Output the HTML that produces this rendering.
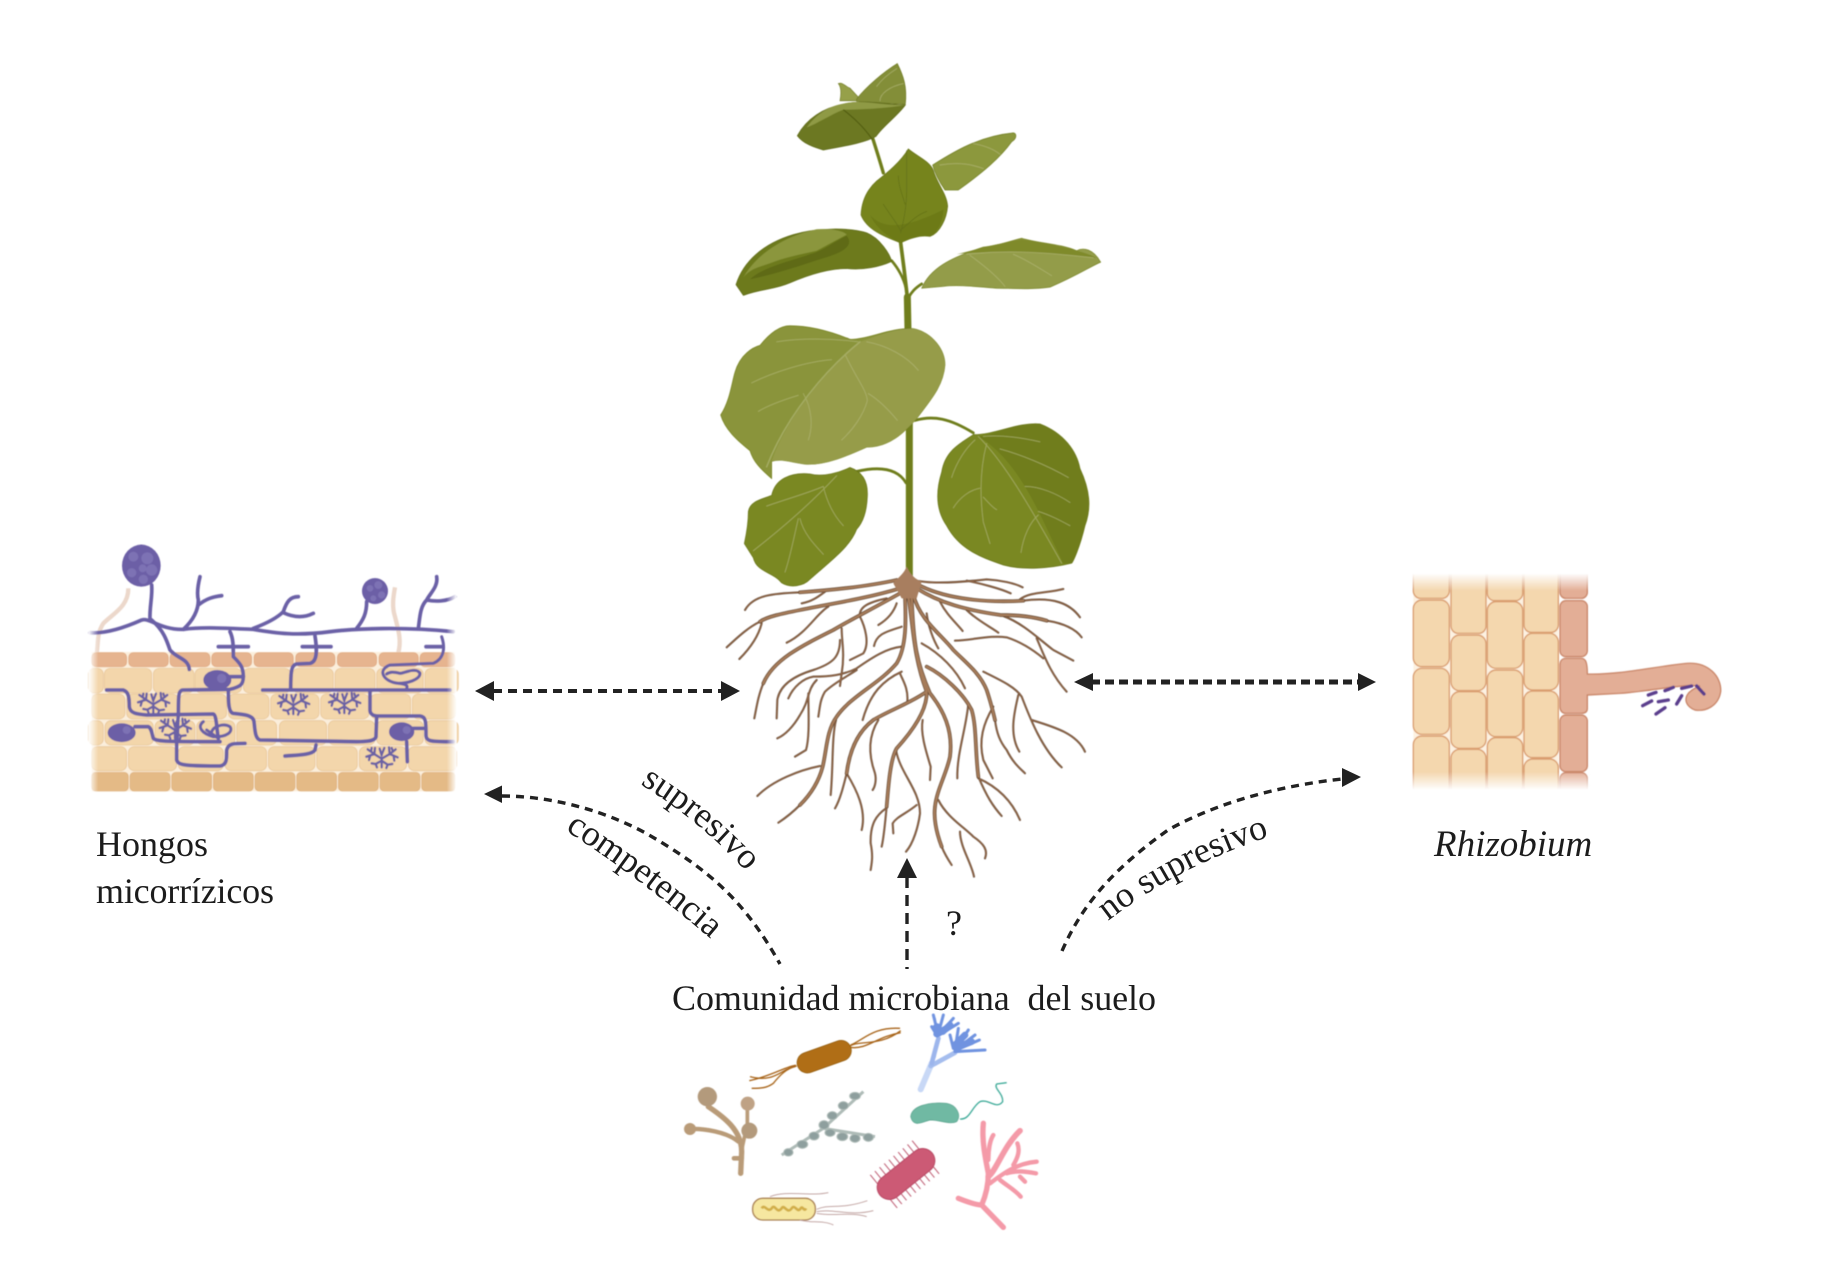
<!DOCTYPE html>
<html lang="es">
<head>
<meta charset="utf-8">
<title>Comunidad microbiana del suelo</title>
<style>
html,body{margin:0;padding:0;background:#fff;width:1847px;height:1277px;overflow:hidden}
svg{display:block}
text{font-family:"Liberation Serif",serif;fill:#1c1c1c;font-size:36px}
</style>
</head>
<body>
<svg width="1847" height="1277" viewBox="0 0 1847 1277" xmlns="http://www.w3.org/2000/svg">
<defs>
<filter id="b" filterUnits="userSpaceOnUse" x="0" y="0" width="1847" height="1277"><feGaussianBlur stdDeviation=".6"/></filter>
<linearGradient id="fl" x1="0" x2="1" y1="0" y2="0"><stop offset="0" stop-color="#fff"/><stop offset="1" stop-color="#fff" stop-opacity="0"/></linearGradient>
<linearGradient id="fr" x1="0" x2="1" y1="0" y2="0"><stop offset="0" stop-color="#fff" stop-opacity="0"/><stop offset="1" stop-color="#fff"/></linearGradient>
<linearGradient id="ft" x1="0" x2="0" y1="0" y2="1"><stop offset="0" stop-color="#fff"/><stop offset="1" stop-color="#fff" stop-opacity="0"/></linearGradient>
<linearGradient id="fb" x1="0" x2="0" y1="0" y2="1"><stop offset="0" stop-color="#fff" stop-opacity="0"/><stop offset="1" stop-color="#fff"/></linearGradient>
<path id="ps" d="M640,784Q705,824 752,878"/>
<path id="pc" d="M565,830Q645,882 712,940"/>
<path id="pn" d="M1108,921Q1180,865 1274,835"/>
<g id="r1" fill="none" stroke-linecap="round" stroke-linejoin="round">
<path d="M600,85C500,115 400,130 300,150C250,160 200,170 180,185"/>
<path d="M600,100C530,140 450,180 400,210C300,260 220,300 190,370"/>
<path d="M615,110C618,180 620,260 590,310C540,370 450,410 410,470C380,510 380,570 368,620C355,670 325,710 300,735"/>
<path d="M625,110C640,200 640,290 680,395C630,430 570,450 520,480C480,510 450,560 440,640"/>
<path d="M635,110C640,250 650,310 690,400C730,450 760,510 750,590C740,640 710,690 705,740C700,780 710,820 725,860"/>
<path d="M640,105C660,180 720,220 760,270C800,310 840,340 860,390C870,420 878,450 885,480"/>
<path d="M650,72C720,110 830,130 970,122"/>
<path d="M650,85C720,130 800,150 900,165C950,165 1000,170 1040,182"/>
<path d="M680,400C680,450 640,510 590,565C570,600 565,680 560,740"/>
<path d="M680,320C730,345 790,400 815,450C830,500 825,570 835,650"/>
<path d="M590,60C500,80 400,90 300,97"/>
</g>
<g id="r2" fill="none" stroke-linecap="round" stroke-linejoin="round">
<path d="M300,97C220,100 160,105 135,150"/>
<path d="M180,185C140,205 110,235 80,262"/>
<path d="M185,190C175,230 150,265 118,297"/>
<path d="M385,140C350,160 320,220 260,248"/>
<path d="M375,95C355,110 335,125 305,130"/>
<path d="M190,370C175,405 170,440 163,475"/>
<path d="M425,205C425,245 435,280 425,340L420,378"/>
<path d="M420,240C420,290 400,310 340,330C290,345 240,370 232,420L230,475"/>
<path d="M560,115C510,125 475,140 480,170C495,200 510,250 490,280L450,300"/>
<path d="M605,260C560,265 520,290 470,325C430,345 390,350 340,350C310,355 280,380 265,415"/>
<path d="M470,330C440,350 400,370 375,395C360,420 360,440 355,470"/>
<path d="M350,360C320,390 330,420 300,465C280,500 255,525 232,535"/>
<path d="M325,400C325,450 330,530 318,570L285,590"/>
<path d="M590,130C580,160 560,180 535,195"/>
<path d="M605,200C560,215 530,220 522,258"/>
<path d="M300,735C280,755 255,775 235,788"/>
<path d="M360,618C300,630 220,660 172,708"/>
<path d="M408,480C395,530 400,620 392,705"/>
<path d="M605,335C550,360 510,400 488,480"/>
<path d="M600,340C610,365 625,385 622,425"/>
<path d="M440,640C430,680 420,720 405,745"/>
<path d="M440,640C470,690 500,750 485,810"/>
<path d="M535,480C510,520 500,570 525,640C530,660 525,680 518,690"/>
<path d="M725,860C735,885 745,900 755,915"/>
<path d="M560,740C555,790 552,830 545,860"/>
<path d="M588,570C600,640 660,690 660,760C655,800 640,850 618,875"/>
<path d="M650,735C620,760 590,770 578,790L580,820"/>
<path d="M558,745C530,765 510,790 512,850C520,890 515,910 512,930"/>
<path d="M668,480C660,520 680,580 692,620L690,660"/>
<path d="M715,720C740,770 790,800 820,830C850,850 865,870 855,895"/>
<path d="M780,815C780,860 815,910 822,950"/>
<path d="M885,480C890,520 900,545 920,570C940,610 960,625 975,640"/>
<path d="M665,250C720,280 770,330 795,385"/>
<path d="M680,160C685,200 700,240 715,265"/>
<path d="M835,650C860,710 880,740 905,768"/>
<path d="M805,430C800,500 770,580 772,655"/>
<path d="M835,655C880,675 930,710 960,780"/>
<path d="M880,440C850,490 835,540 850,600L878,655"/>
<path d="M850,335C900,360 945,380 965,410C985,460 1020,560 1085,622"/>
<path d="M955,405C945,450 925,520 958,575"/>
<path d="M995,480C1060,500 1130,520 1155,575"/>
<path d="M640,60C700,75 800,65 860,58C900,60 945,70 968,82"/>
<path d="M970,122C1060,110 1110,130 1140,172"/>
<path d="M800,62C840,70 900,85 932,100"/>
<path d="M960,118C990,95 1040,100 1090,87"/>
<path d="M1040,182C1090,190 1125,205 1145,232"/>
<path d="M910,168C970,190 1020,240 1060,270L1120,302"/>
<path d="M1010,235C1030,280 1050,340 1100,395"/>
<path d="M765,242C820,240 870,225 920,232C960,245 1000,270 1030,295"/>
<path d="M800,150C830,180 870,200 895,218"/>
<path d="M720,125C740,165 770,190 788,213"/>
</g>
<g id="arb" fill="none" stroke="#6c62a4" stroke-width="7" stroke-linecap="round">
<path d="M0,34V5M0,8L-22,-6M-22,-6L-42,-20M-22,-6L-46,2M-22,-6L-20,-24M-32,-13L-30,-24M-34,-2L-38,12M0,8L24,-6M24,-6L42,-20M24,-6L48,4M24,-6L22,-26M34,-13L30,-24M36,0L38,14M0,14L-18,24M-18,24L-30,22M-18,24L-14,34M0,14L18,26M18,26L32,24M18,26L14,36M0,-2L-6,-22M0,-4L8,-24"/>
</g>
</defs>

<g filter="url(#b)">
<!-- PLANT -->
<g transform="translate(650,40) scale(.33333,.35714)">
<g fill="none" stroke="#6f7e1e" stroke-linecap="round">
<path d="M778,1500L778,1000L772,720" stroke-width="21"/>
<path d="M772,720L762,640L752,568" stroke-width="11"/>
<path d="M668,275C680,310 690,340 700,372" stroke-width="10"/>
<path d="M725,618C745,640 760,665 768,695" stroke-width="8"/>
<path d="M815,683C795,695 785,705 775,722" stroke-width="8"/>
<path d="M795,1065C850,1050 900,1060 970,1100" stroke-width="8"/>
<path d="M620,1208C680,1195 740,1195 768,1240" stroke-width="8"/>
</g>
<path d="M565,122C580,118 585,130 600,135L635,170L570,170C575,145 572,130 565,122Z" fill="#96a04a" stroke="#6f7a24" stroke-width="2"/>
<path d="M620,165C650,130 700,90 742,66C760,100 772,130 766,180L620,172Z" fill="#838e38" stroke="#6f7a24" stroke-width="2"/>
<path d="M442,268C470,220 520,190 580,180C640,165 700,180 766,182C740,215 700,240 678,270C650,285 600,295 520,308C490,300 460,290 442,268Z" fill="#6c7821" stroke="#5f6a1a" stroke-width="2"/>
<path d="M470,245C500,205 540,185 580,178C640,165 700,185 766,182C720,190 640,195 580,195C540,210 500,235 470,245Z" fill="#8f9a45"/>
<path d="M848,350C900,320 980,270 1090,260C1100,262 1102,275 1085,285C1050,330 1000,370 925,420L885,420C870,400 855,375 848,350Z" fill="#8c983c" stroke="#6f7d20" stroke-width="2"/>
<path d="M775,305C800,325 840,340 850,365C860,400 890,430 893,465C890,500 870,540 840,550C810,545 780,555 752,568C700,550 650,530 633,490C635,450 650,420 680,395C700,380 750,345 775,305Z" fill="#76841f" stroke="#647118" stroke-width="2"/>
<path d="M660,490C700,530 760,530 880,475C880,510 860,540 840,550C810,545 780,555 752,568C720,555 680,530 660,490Z" fill="#6d7a18"/>
<path d="M258,685C280,620 340,570 430,545C500,525 600,525 650,540C690,555 720,600 725,620C690,635 640,645 590,640C530,640 470,660 420,680C370,700 340,695 280,715Z" fill="#6d7a1e" stroke="#5e6a16" stroke-width="2"/>
<path d="M280,665C320,600 400,550 500,530C550,528 580,535 590,545C560,560 530,575 500,590C450,600 400,610 360,625C330,635 300,640 280,665Z" fill="#8b963c"/>
<path d="M300,670C340,635 420,620 480,600C520,590 550,565 590,548C610,570 590,590 540,605C470,625 400,650 300,670Z" fill="#5f6a14"/>
<path d="M815,695C840,640 900,610 1000,580C1050,575 1090,560 1115,555C1170,570 1230,570 1280,590C1300,580 1330,585 1352,622C1320,635 1280,660 1200,692C1140,700 1080,695 1040,695C970,690 920,685 880,690Z" fill="#939c48" stroke="#7a8628" stroke-width="2"/>
<path d="M920,600C1000,590 1150,590 1340,610C1300,590 1200,570 1115,558C1050,570 980,585 920,600Z" fill="#7f8a2c"/>
<path d="M212,1050C240,1010 245,960 255,930C270,880 310,860 330,855C360,820 390,800 420,800C480,800 540,815 600,838C650,840 720,805 790,808C850,820 885,870 885,910C880,970 840,1010 800,1060C760,1100 720,1140 650,1140C590,1165 530,1190 470,1188C430,1185 395,1170 365,1180L365,1228C330,1200 310,1180 300,1150C260,1120 225,1090 212,1050Z" fill="#8a943a" stroke="#74801f" stroke-width="2"/>
<path d="M630,845C690,825 740,808 790,808C850,820 885,870 885,910C880,970 840,1010 800,1060C760,1100 720,1140 650,1140C590,1165 530,1190 470,1188C430,1185 395,1170 365,1180C400,1080 500,950 630,845Z" fill="#969c4a"/>
<path d="M283,1410C290,1380 295,1350 295,1320C300,1290 340,1285 365,1275C375,1230 420,1210 480,1215C520,1225 570,1210 600,1197C640,1210 655,1240 652,1280C650,1320 640,1350 620,1370C600,1420 540,1460 480,1510C460,1530 420,1535 395,1520C370,1490 320,1490 310,1450Z" fill="#7a8823" stroke="#667318" stroke-width="2"/>
<path d="M970,1105C1040,1105 1100,1070 1170,1075C1240,1100 1280,1150 1290,1200C1320,1260 1325,1310 1305,1360C1290,1420 1270,1460 1265,1465C1200,1480 1120,1485 1060,1470C1000,1450 930,1430 890,1360C860,1320 855,1270 875,1210C885,1150 930,1130 970,1105Z" fill="#7a8823" stroke="#667318" stroke-width="2"/>
<path d="M985,1110C1040,1105 1100,1070 1170,1075C1240,1100 1280,1150 1290,1200C1320,1260 1325,1310 1305,1360C1290,1420 1270,1460 1265,1465L1240,1465C1170,1330 1110,1180 985,1110Z" fill="#6f7d1c"/>
<g fill="none" stroke="#b3b878" stroke-width="2.500" stroke-linecap="round" opacity=".7">
<path d="M630,845C530,920 410,1050 350,1195" stroke-width="4"/>
<path d="M545,895C470,900 370,930 305,960M445,995C410,1005 360,1020 325,1040M460,990C485,1030 490,1080 475,1120M585,880C620,950 650,980 652,1010C640,1050 610,1090 575,1120M655,990C690,1010 720,1040 742,1065M625,845C540,835 450,835 380,845M650,845C710,855 770,885 805,925"/>
<path d="M560,1220C500,1280 420,1350 310,1430M520,1250C530,1290 550,1330 580,1360M520,1250C470,1270 410,1285 350,1305M450,1340C460,1380 490,1410 520,1440M445,1340C430,1400 420,1450 405,1490"/>
<path d="M985,1110C1060,1180 1130,1290 1235,1465M1010,1130C990,1200 990,1280 1000,1350L1020,1410M990,1255C960,1260 930,1280 910,1310M1000,1280C1020,1300 1030,1310 1040,1315M975,1120C950,1140 920,1180 905,1225M1050,1145C1110,1160 1190,1190 1255,1225M1000,1110C1060,1105 1120,1115 1170,1125M1125,1250C1170,1250 1220,1270 1260,1295M1165,1320C1200,1330 1230,1345 1260,1360M1165,1330C1140,1350 1120,1390 1113,1435"/>
<path d="M770,310V420C770,470 760,510 752,540M745,380C745,410 760,440 765,460M700,460C720,490 740,510 752,535M830,480C800,490 780,510 755,530" stroke="#5f6c14"/>
<path d="M870,350C930,340 970,350 1000,360M970,290C1000,295 1030,305 1050,320"/>
<path d="M950,600C1050,590 1150,590 1330,610M960,603C1000,630 1040,660 1065,690M1090,600C1130,615 1170,640 1205,660"/>
<path d="M680,130C695,110 715,95 740,80M690,170C690,150 720,130 760,122"/>
</g>
<path d="M580,195C600,210 640,240 668,280" fill="none" stroke="#4f5a10" stroke-width="3"/>
</g>

<!-- ROOTS -->
<g transform="translate(700,560) scale(.33333)">
<use href="#r2" stroke="#4d3726" stroke-width="6"/>
<use href="#r2" stroke="#94694a" stroke-width="3.500"/>
<use href="#r1" stroke="#5f442f" stroke-width="11"/>
<use href="#r1" stroke="#a67c5a" stroke-width="7"/>
<path d="M620,20C610,45 590,55 580,70L605,115L650,115L665,65C640,55 630,40 620,20Z" fill="#a87e5e"/>
</g>

<!-- MYCORRHIZA -->
<g transform="translate(70,530) scale(.33333)">
<path d="M80,370C85,340 80,310 100,280C130,250 175,230 175,175" fill="none" stroke="#ecd8cb" stroke-width="13"/>
<path d="M985,368C995,330 985,300 975,260C965,230 970,200 975,172" fill="none" stroke="#ecd8cb" stroke-width="13"/>
<rect x="65" y="366" width="1090" height="418" fill="#fbeedb"/>
<g fill="#e6b48f" stroke="#e0a97f" stroke-width="2">
<rect x="65" y="368" width="105" height="42" rx="14"/><rect x="176" y="368" width="119" height="42" rx="14"/><rect x="300" y="368" width="120" height="42" rx="14"/><rect x="425" y="368" width="120" height="42" rx="14"/><rect x="552" y="368" width="118" height="42" rx="14"/><rect x="677" y="368" width="118" height="42" rx="14"/><rect x="802" y="368" width="118" height="42" rx="14"/><rect x="927" y="368" width="118" height="42" rx="14"/><rect x="1050" y="368" width="105" height="42" rx="14"/>
</g>
<g fill="#f3d6ab" stroke="#e8c494" stroke-width="2">
<rect x="55" y="415" width="45" height="74" rx="18"/><rect x="103" y="415" width="142" height="74" rx="18"/><rect x="250" y="415" width="122" height="74" rx="18"/><rect x="375" y="415" width="140" height="74" rx="18"/><rect x="520" y="415" width="142" height="74" rx="18"/><rect x="668" y="415" width="122" height="74" rx="18"/><rect x="795" y="415" width="120" height="74" rx="18"/><rect x="920" y="415" width="140" height="74" rx="18"/><rect x="1065" y="415" width="100" height="74" rx="18"/>
<rect x="65" y="492" width="100" height="75" rx="18"/><rect x="170" y="492" width="155" height="75" rx="18"/><rect x="330" y="492" width="140" height="75" rx="18"/><rect x="475" y="492" width="122" height="75" rx="18"/><rect x="602" y="492" width="145" height="75" rx="18"/><rect x="752" y="492" width="145" height="75" rx="18"/><rect x="902" y="492" width="120" height="75" rx="18"/><rect x="1027" y="492" width="130" height="75" rx="18"/>
<rect x="55" y="572" width="45" height="73" rx="18"/><rect x="105" y="572" width="145" height="73" rx="18"/><rect x="255" y="572" width="120" height="73" rx="18"/><rect x="380" y="572" width="115" height="73" rx="18"/><rect x="500" y="572" width="120" height="73" rx="18"/><rect x="628" y="572" width="142" height="73" rx="18"/><rect x="775" y="572" width="140" height="73" rx="18"/><rect x="920" y="572" width="140" height="73" rx="18"/><rect x="1065" y="572" width="100" height="73" rx="18"/>
<rect x="65" y="650" width="105" height="72" rx="18"/><rect x="175" y="650" width="145" height="72" rx="18"/><rect x="325" y="650" width="135" height="72" rx="18"/><rect x="465" y="650" width="125" height="72" rx="18"/><rect x="595" y="650" width="140" height="72" rx="18"/><rect x="740" y="650" width="122" height="72" rx="18"/><rect x="868" y="650" width="142" height="72" rx="18"/><rect x="1015" y="650" width="145" height="72" rx="18"/>
</g>
<g fill="#e4ba86" stroke="#dcae78" stroke-width="2">
<rect x="65" y="727" width="110" height="56" rx="12"/><rect x="180" y="727" width="120" height="56" rx="12"/><rect x="305" y="727" width="120" height="56" rx="12"/><rect x="430" y="727" width="120" height="56" rx="12"/><rect x="555" y="727" width="120" height="56" rx="12"/><rect x="680" y="727" width="120" height="56" rx="12"/><rect x="805" y="727" width="120" height="56" rx="12"/><rect x="930" y="727" width="120" height="56" rx="12"/><rect x="1055" y="727" width="100" height="56" rx="12"/>
</g>
<g fill="none" stroke="#6a60a6" stroke-width="11" stroke-linecap="round" stroke-linejoin="round">
<path d="M60,308C110,312 170,290 215,270C240,262 270,300 340,298C400,290 470,295 550,298C620,310 680,318 780,305C860,295 1000,290 1150,305"/>
<path d="M240,270C238,230 248,200 245,165"/>
<path d="M340,298C370,270 385,240 385,210C380,190 385,160 390,140M385,225C410,205 430,200 455,197"/>
<path d="M550,295C590,280 620,265 640,245C650,215 660,200 685,200M640,248C670,262 700,265 730,250"/>
<path d="M245,270C280,300 290,330 300,360C320,385 355,385 358,418"/>
<path d="M860,295C880,270 890,250 890,215"/>
<path d="M1045,295C1050,260 1050,230 1070,210C1080,190 1105,170 1100,140M1070,210C1095,215 1130,215 1155,200"/>
<path d="M480,305C490,325 490,350 490,380C510,400 520,410 520,440C520,465 510,470 480,478L340,480C325,480 325,495 325,560C320,590 325,610 320,630"/>
<path d="M445,350H535M697,350H783M1068,350H1115"/>
<path d="M735,318C740,350 745,395 720,400L680,402C665,405 662,420 662,475"/>
<path d="M578,480H1140"/>
<path d="M900,480V540C900,555 915,558 925,558H1050C1068,560 1068,575 1068,615C1068,635 1085,635 1150,635"/>
<path d="M920,560L918,620C915,635 880,635 860,635L570,630C555,625 555,600 552,575C550,555 520,553 490,550C478,548 475,530 475,480"/>
<path d="M110,480H160C175,485 178,500 178,530C180,550 200,552 230,555L430,552C440,555 440,600 445,625"/>
<path d="M195,590H235C245,595 245,610 250,625C260,635 300,635 450,635"/>
<path d="M320,635V690C325,705 340,708 450,708C470,705 470,690 470,660C475,640 490,640 525,640"/>
<path d="M645,678C680,675 725,675 735,660L738,645"/>
<path d="M1010,635L1012,695M1030,595H1060M480,440H520"/>
<path d="M1115,320C1125,350 1125,385 1090,400L960,405C920,420 940,455 985,460C1010,460 1050,450 1050,430C1040,410 1000,430 990,430C970,425 960,425 950,432M985,460C1005,462 1015,465 1010,475" stroke-width="9"/>
<path d="M400,575C380,590 395,610 430,620C470,622 490,605 480,590C460,578 430,590 425,605M410,600L445,625" stroke-width="9"/>
</g>
<use href="#arb" x="250" y="515"/>
<use href="#arb" x="315" y="592"/>
<use href="#arb" x="670" y="518"/>
<use href="#arb" x="823" y="515"/>
<use href="#arb" x="935" y="678"/>
<g fill="#6c5fa6">
<ellipse cx="214" cy="107" rx="58" ry="63"/><circle cx="915" cy="183" r="39"/>
<ellipse cx="442" cy="450" rx="42" ry="30"/><ellipse cx="155" cy="608" rx="42" ry="28"/><ellipse cx="995" cy="605" rx="38" ry="28"/>
</g>
<g fill="#8277b8" opacity=".8">
<circle cx="232" cy="85" r="18"/><circle cx="190" cy="80" r="15"/><circle cx="245" cy="120" r="17"/><circle cx="218" cy="115" r="12"/><circle cx="220" cy="148" r="14"/><circle cx="185" cy="128" r="14"/>
<circle cx="925" cy="165" r="12"/><circle cx="900" cy="175" r="10"/><circle cx="935" cy="195" r="11"/><circle cx="910" cy="205" r="9"/>
<circle cx="455" cy="445" r="14"/><circle cx="170" cy="600" r="12"/><circle cx="1010" cy="600" r="12"/>
</g>
<rect x="55" y="280" width="30" height="510" fill="url(#fl)"/>
<rect x="1130" y="130" width="30" height="660" fill="url(#fr)"/>
</g>

<!-- RHIZOBIUM -->
<g transform="translate(1380,560) scale(.33333)">
<rect x="100" y="40" width="435" height="650" fill="#fdf2e2"/>
<g fill="#f4d7ae" stroke="#d99c6e" stroke-width="4">
<rect x="100" y="20" width="108" height="95" rx="22"/><rect x="100" y="120" width="108" height="200" rx="26"/><rect x="100" y="325" width="108" height="198" rx="26"/><rect x="100" y="528" width="108" height="180" rx="26"/>
<rect x="213" y="20" width="105" height="200" rx="22"/><rect x="213" y="225" width="105" height="167" rx="26"/><rect x="213" y="395" width="105" height="170" rx="26"/><rect x="213" y="568" width="105" height="140" rx="26"/>
<rect x="322" y="20" width="106" height="102" rx="22"/><rect x="322" y="125" width="106" height="200" rx="26"/><rect x="322" y="330" width="106" height="200" rx="26"/><rect x="322" y="533" width="106" height="170" rx="26"/>
<rect x="432" y="20" width="103" height="197" rx="22"/><rect x="432" y="220" width="103" height="170" rx="26"/><rect x="432" y="393" width="103" height="200" rx="26"/><rect x="432" y="597" width="103" height="110" rx="26"/>
</g>
<g fill="#e3ae96" stroke="#c98567" stroke-width="4">
<rect x="540" y="20" width="82" height="95" rx="18"/><rect x="540" y="122" width="82" height="168" rx="18"/><rect x="540" y="465" width="82" height="170" rx="18"/><rect x="540" y="638" width="82" height="70" rx="18"/>
<path d="M558,295H604C618,295 622,310 622,342C720,345 820,320 920,310C985,305 1025,350 1022,395C1015,440 975,455 945,450C920,440 910,420 925,400C935,388 955,380 960,378C900,372 800,395 720,400L622,405V445C622,455 615,460 604,460H558C545,460 540,450 540,440V315C540,302 547,295 558,295Z"/>
</g>
<g stroke="#5a3d8c" stroke-width="10" stroke-linecap="round" fill="none">
<path d="M805,405L828,397M855,392L880,382M905,385L935,378M950,378L972,402M788,437L815,423M835,425L865,420M890,432L905,407M828,462L855,443"/>
</g>
<rect x="90" y="10" width="545" height="32" fill="#fff"/>
<rect x="90" y="40" width="545" height="52" fill="url(#ft)"/>
<rect x="90" y="635" width="545" height="55" fill="url(#fb)"/>
<rect x="90" y="688" width="545" height="30" fill="#fff"/>
</g>

<!-- MICROBES -->
<g transform="translate(660,960) scale(.33333)">
<g fill="none" stroke="#a8651a" stroke-width="4">
<path d="M410,318C380,325 360,345 340,370C320,385 300,385 275,385"/>
<path d="M405,320C365,325 345,370 270,350"/>
<path d="M408,316C380,318 330,350 268,362"/>
<path d="M570,262C620,270 650,230 722,218"/>
<path d="M572,255C610,240 640,200 720,205"/>
<path d="M570,258C600,240 660,260 722,212"/>
</g>
<path d="M442,308L543,272" stroke="#8e5810" stroke-width="64" stroke-linecap="round"/>
<path d="M442,308L543,272" stroke="#b06e12" stroke-width="60" stroke-linecap="round"/>
<g fill="none" stroke-linecap="round">
<path d="M782,388L815,310" stroke="#c8d8f6" stroke-width="18"/>
<path d="M812,318L885,278" stroke="#a5bdee" stroke-width="14"/>
<path d="M815,310L835,235" stroke="#9cb5ec" stroke-width="14"/>
<path d="M835,225L820,165M835,220L850,165M838,222L880,175M838,225L895,190M832,228L815,200M885,270L895,205M885,270L925,210M885,272L958,240M885,275L975,270M880,265L870,225M885,270L945,225" stroke="#6f93e0" stroke-width="9"/>
<path d="M838,215C830,200 835,195 825,205M848,215L870,195M830,222L860,205M885,255L915,225M890,262L935,245" stroke="#6f93e0" stroke-width="20"/>
</g>
<path d="M752,470C755,440 800,425 860,430C890,435 905,465 890,485C870,495 840,480 810,480C790,485 760,505 752,470Z" fill="#6fb9a3" stroke="#5ba38e" stroke-width="2"/>
<path d="M900,477C930,480 935,440 960,425C985,415 1010,450 1028,425C1030,400 1000,385 1010,372L1040,368" fill="none" stroke="#3eaa98" stroke-width="4"/>
<path d="M365,585L490,505L610,395M490,505L645,530" fill="none" stroke="#aebbb7" stroke-width="9"/>
<g fill="#8e9f9e" stroke="#aebbb7" stroke-width="3">
<ellipse cx="385" cy="577" rx="14" ry="11"/><ellipse cx="427" cy="553" rx="16" ry="12"/><ellipse cx="462" cy="528" rx="15" ry="12"/><ellipse cx="492" cy="495" rx="15" ry="13"/><ellipse cx="517" cy="467" rx="15" ry="12"/><ellipse cx="550" cy="437" rx="15" ry="12"/><ellipse cx="585" cy="408" rx="16" ry="11"/>
<ellipse cx="510" cy="518" rx="15" ry="11"/><ellipse cx="547" cy="530" rx="16" ry="12"/><ellipse cx="585" cy="535" rx="15" ry="12"/><ellipse cx="625" cy="532" rx="15" ry="12"/>
</g>
<path d="M670,695L805,585" stroke="#bd5a70" stroke-width="128" stroke-dasharray="3 15"/>
<path d="M688,682L788,602" stroke="#b84a65" stroke-width="76" stroke-linecap="round"/>
<path d="M688,682L788,602" stroke="#cc5a74" stroke-width="70" stroke-linecap="round"/>
<rect x="278" y="715" width="188" height="65" rx="30" fill="#f6e7a0" stroke="#a87e50" stroke-width="4"/>
<path d="M305,745C315,730 322,760 335,745C345,728 350,765 365,745C372,730 382,765 395,745C405,730 412,762 422,745C428,735 432,758 438,745" fill="none" stroke="#d2ae48" stroke-width="8"/>
<g fill="none" stroke="#c4a8a6" stroke-width="3">
<path d="M470,748C510,730 540,750 622,722M470,755C520,745 570,770 640,752M470,760C520,770 570,755 620,770M420,780C450,790 490,780 520,795M330,710C380,690 450,710 505,698"/>
</g>
<g fill="none" stroke="#f49aa8" stroke-linecap="round" stroke-linejoin="round">
<path d="M895,715C920,725 950,735 965,735L1030,802" stroke-width="16"/>
<path d="M965,735C980,700 985,670 985,640C975,590 965,540 970,490" stroke-width="16"/>
<path d="M985,650C1010,630 1030,560 1080,512" stroke-width="17"/>
<path d="M990,670C1030,640 1070,610 1130,605M1040,640C1070,630 1100,635 1128,640M1020,660C1045,680 1065,690 1082,710M1060,615C1075,590 1080,570 1072,550M985,600C985,570 990,540 1000,525M1080,650L1095,665" stroke-width="13"/>
</g>
<g fill="none" stroke="#b99b78" stroke-linecap="round">
<path d="M145,440C190,470 245,510 245,575L242,640" stroke-width="16"/>
<path d="M90,507C130,505 200,515 235,545" stroke-width="13"/>
<path d="M262,440L262,490L245,570" stroke-width="11"/>
<path d="M222,595H245" stroke-width="14"/>
</g>
<circle cx="142" cy="410" r="29" fill="#b39a7c"/>
<circle cx="263" cy="431" r="21" fill="#bfa285"/>
<circle cx="268" cy="512" r="24" fill="#b39a7c"/>
<circle cx="90" cy="507" r="18" fill="#b99b78"/>
</g>
</g>

<!-- CONNECTORS -->
<g fill="none" stroke="#222">
<path d="M493,691H722" stroke-width="4" stroke-dasharray="9 6"/>
<path d="M1091,682H1358" stroke-width="5" stroke-dasharray="9 5"/>
<path d="M502,796C559,796 614,815 649,835C709,870 744,900 780,964" stroke-width="3.400" stroke-dasharray="8 6"/>
<path d="M1062,951C1082,905 1112,870 1168,830C1222,800 1286,785 1342,779" stroke-width="3.400" stroke-dasharray="8 6"/>
<path d="M907,877V969" stroke-width="3.400" stroke-dasharray="11 7"/>
</g>
<g fill="#222">
<path d="M475,691L494,681V701Z"/>
<path d="M740,691L721,681V701Z"/>
<path d="M1074,682L1093,673V691Z"/>
<path d="M1376,682L1358,673V691Z"/>
<path d="M484,794L502,785.500V803Z"/>
<path d="M1361,777L1342,768V787Z"/>
<path d="M907,858L897,878H917Z"/>
</g>

<!-- LABELS -->
<text x="96" y="856">Hongos</text>
<text x="96" y="903" textLength="178">micorrízicos</text>
<text x="1434" y="856" font-style="italic" style="font-size:37px">Rhizobium</text>
<text x="672" y="1010" textLength="484" xml:space="preserve" style="white-space:pre">Comunidad microbiana  del suelo</text>
<text x="946" y="935">?</text>
<text><textPath href="#ps">supresivo</textPath></text>
<text><textPath href="#pc">competencia</textPath></text>
<text><textPath href="#pn">no supresivo</textPath></text>
</svg>
</body>
</html>
